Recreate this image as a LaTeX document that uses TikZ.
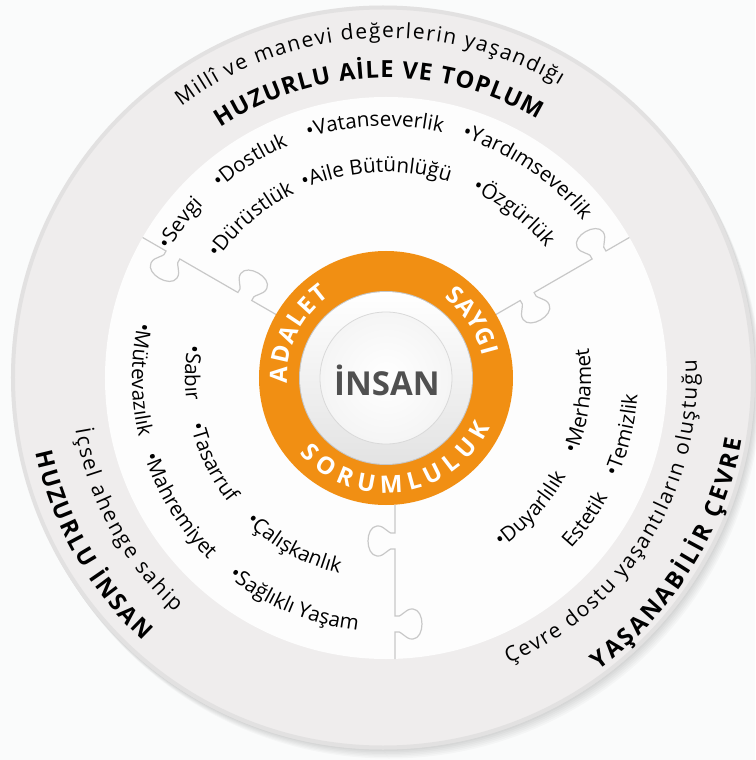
\documentclass[tikz,border=0pt]{standalone}
\usepackage{fontspec}
\setmainfont{Open Sans}
\usetikzlibrary{decorations.text}

\definecolor{ringorange}{RGB}{241,143,19}
\definecolor{ringgray}{RGB}{239,237,237}
\definecolor{insangray}{RGB}{80,80,80}
\definecolor{pagebg}{RGB}{250,251,251}
\definecolor{cutgray}{RGB}{200,200,200}
\definecolor{discwhite}{RGB}{253,253,253}

\newcommand\itemfont{\fontsize{10.3pt}{12pt}\selectfont}
\newcommand\notefont{\fontsize{10.5pt}{12pt}\selectfont}
\newcommand\titlefont{\fontsize{11.8pt}{14pt}\selectfont\bfseries}
\newcommand\valuefont{\fontsize{12pt}{14pt}\selectfont\bfseries}

% text centred on an arc: radius, start angle, end angle, text
\newcommand\arctext[5][]{%
  \path[decorate,decoration={text along path,text align=center,#1,text={#5}}]
    (#3:#2) arc[start angle=#3,end angle=#4,radius=#2];}
% text spread over the whole arc
\newcommand\fittext[5][]{%
  \path[decorate,decoration={text along path,text align={fit to path},#1,text={#5}}]
    (#3:#2) arc[start angle=#3,end angle=#4,radius=#2];}

\begin{document}
\begin{tikzpicture}[x=0.5pt,y=0.5pt,
    cutline/.style={draw=cutgray,line width=0.6pt},
    insan/.style={font=\fontsize{16.5pt}{18pt}\selectfont\bfseries,text=insangray,inner sep=0pt}]
  \useasboundingbox (-386,-382) rectangle (369,378);
  \fill[pagebg] (-386,-382) rectangle (369,378);

  % outer ring with its shadow
  \foreach \s in {1,...,6}
    \fill[black,opacity=0.025] (-3+\s,0.5-1.5*\s) circle (372);
  \fill[ringgray] (-3,0.5) circle (372);
  \draw[gray!40,opacity=0.35,line width=2pt] (-3,0.5) circle (370);
  \fill[discwhite] (0,0) circle (281);

  % puzzle cuts
  \foreach \a/\o in {30/0,150/0,270/9}
    \draw[cutline,rotate=\a,shift={(0,\o)}] (127,0) -- (155,0)
      .. controls (158,-6) and (147,-10) .. (148,-18)
      .. controls (149,-30) and (177,-30) .. (178,-18)
      .. controls (179,-10) and (168,-6) .. (171,0)
      -- (238,0)
      .. controls (241,6) and (230,10) .. (231,18)
      .. controls (232,30) and (260,30) .. (261,18)
      .. controls (262,10) and (251,6) .. (254,0)
      -- (281,0);

  % centre
  \fill[ringorange] (0,0) circle (127);
  \fill[gray!45] (0,0) circle (87);
  \shade[top color=white,bottom color=gray!22] (0,0) circle (86);
  \shade[inner color=white,outer color=gray!8] (0,0) circle (66);
  \draw[gray!30,line width=0.4pt] (0,0) circle (66);
  \node[insan,anchor=base] (insan) at (1,-17) {İNSAN};

  \fittext[text color=white]{99}{183}{124.5}{|\valuefont|ADALET}
  \fittext[text color=white]{99}{54}{13}{|\valuefont|SAYGI}
  \fittext[text color=white]{115}{221}{334.5}{|\valuefont|SORUMLULUK}

  % outer ring texts
  \fittext{340}{127}{59.4}{|\notefont|Millî ve manevi değerlerin yaşandığı}
  \fittext{300}{123.5}{59.5}{|\titlefont|HUZURLU AİLE VE TOPLUM}
  \fittext{315}{189.5}{228}{|\notefont|İçsel ahenge sahip}
  \fittext{358}{192}{227.3}{|\titlefont|HUZURLU İNSAN}
  \fittext{311}{-66.8}{3.3}{|\notefont|Çevre dostu yaşantıların oluştuğu}
  \fittext{361}{-54}{-9.8}{|\titlefont|YAŞANABİLİR ÇEVRE}

  % values, upper piece
  \arctext{252}{168}{118}{|\itemfont|•Sevgi}
  \arctext{252}{147}{97}{|\itemfont|•Dostluk}
  \arctext{252}{117.5}{67.5}{|\itemfont|•Vatanseverlik}
  \arctext{252}{80.6}{30.6}{|\itemfont|•Yardımseverlik}
  \arctext{206}{155.5}{105.5}{|\itemfont|•Dürüstlük}
  \arctext{206}{117.7}{67.7}{|\itemfont|•Aile Bütünlüğü}
  \arctext{206}{77.2}{27.2}{|\itemfont|•Özgürlük}

  % values, left piece
  \arctext{254}{155.4}{205.4}{|\itemfont|•Mütevazılık}
  \arctext{254}{186.7}{236.7}{|\itemfont|•Mahremiyet}
  \arctext{254}{222.6}{272.6}{|\itemfont|•Sağlıklı Yaşam}
  \arctext{201}{153.5}{203.5}{|\itemfont|•Sabır}
  \arctext{201}{180.9}{230.9}{|\itemfont|•Tasarruf}
  \arctext{201}{216.1}{266.1}{|\itemfont|•Çalışkanlık}

  % values, right piece
  \arctext{205}{-67.2}{-17.2}{|\itemfont|•Duyarlılık}
  \arctext{205}{-31.7}{18.3}{|\itemfont|•Merhamet}
  \arctext{252}{-60.5}{-10.5}{|\itemfont|Estetik}
  \arctext{252}{-38.6}{11.4}{|\itemfont|•Temizlik}
\end{tikzpicture}
\end{document}
